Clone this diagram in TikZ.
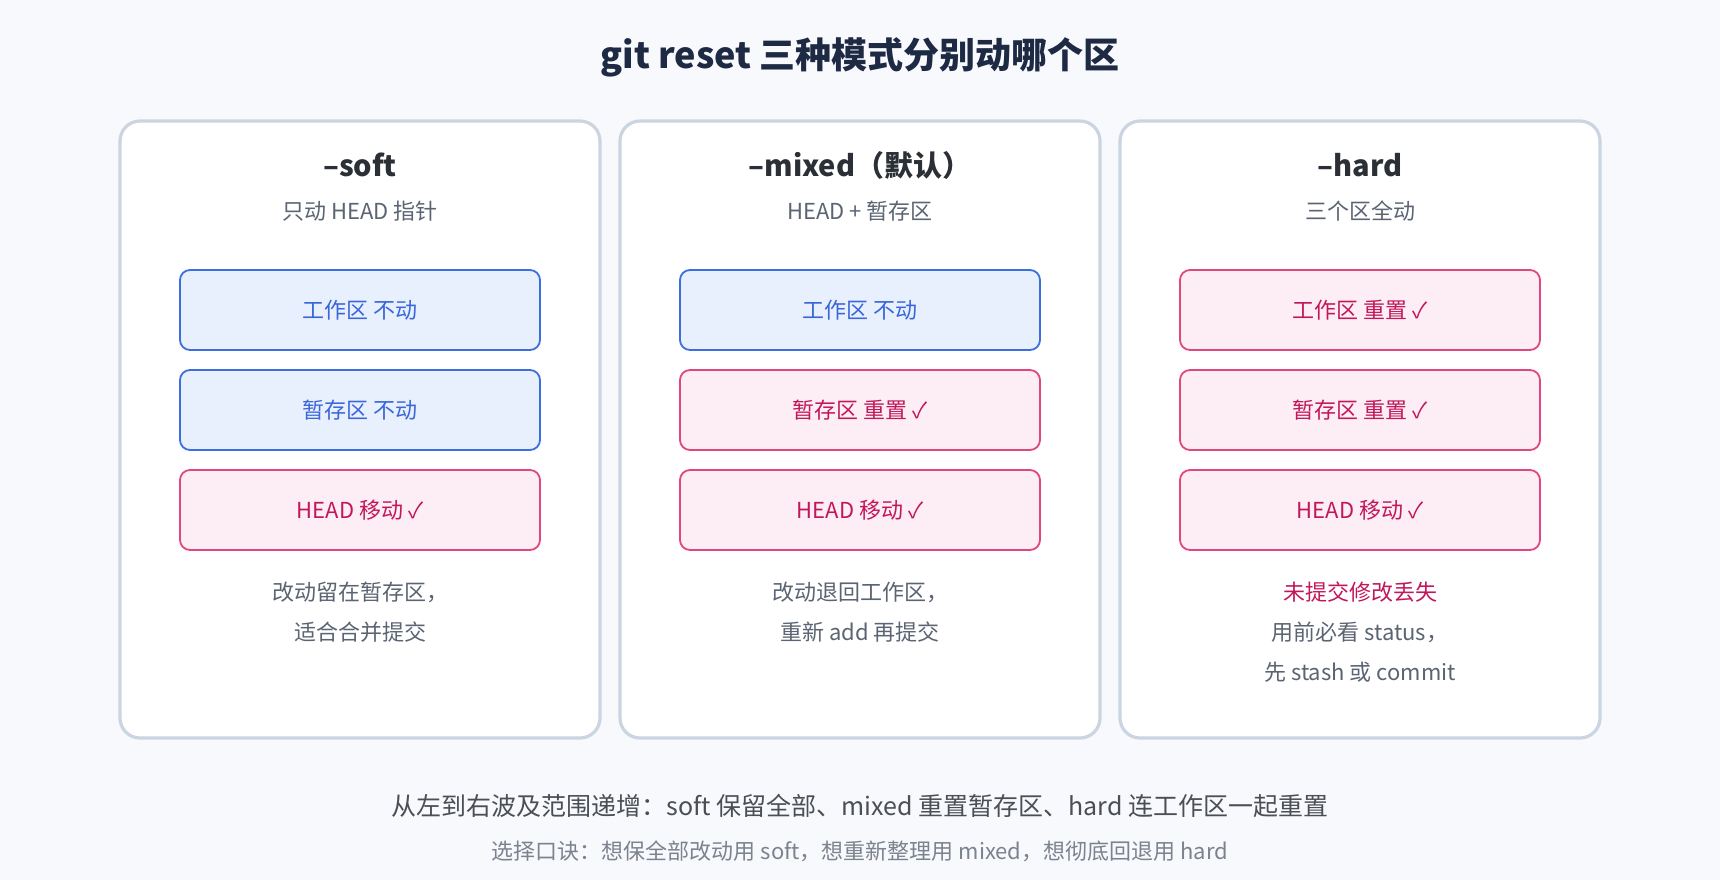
\documentclass[tikz,border=0pt]{standalone}
\usepackage{fontspec}
\setmainfont{Noto Sans CJK SC}
\definecolor{bg}{HTML}{F7F9FC}
\definecolor{cardb}{HTML}{CBD5E1}
\definecolor{bfill}{HTML}{E8F0FE}
\definecolor{bline}{HTML}{3B6FE0}
\definecolor{btext}{HTML}{3A66D9}
\definecolor{pfill}{HTML}{FCEEF4}
\definecolor{pline}{HTML}{E0477F}
\definecolor{ptext}{HTML}{C2185B}
\definecolor{ttl}{HTML}{1E2A44}
\definecolor{gr}{HTML}{5B6472}
\definecolor{dk}{HTML}{2B2F36}
\begin{document}
\begin{tikzpicture}[x=0.5pt,y=-0.5pt,
 card/.style={draw=cardb,line width=1.6pt,fill=white,rounded corners=10pt},
 bbox/.style={draw=bline,fill=bfill,line width=0.9pt,rounded corners=5pt,minimum width=180pt,minimum height=40pt,text=btext,font=\fontsize{11}{13}\selectfont},
 pbox/.style={draw=pline,fill=pfill,line width=0.9pt,rounded corners=5pt,minimum width=180pt,minimum height=40pt,text=ptext,font=\fontsize{11}{13}\selectfont},
 ctitle/.style={font=\fontsize{14.5}{16}\selectfont\bfseries,text=dk},
 sub/.style={font=\fontsize{11}{13}\selectfont,text=gr},
 note/.style={font=\fontsize{11}{20}\selectfont,text=gr,align=center}]
\useasboundingbox[fill=bg] (0,0) rectangle (1720,880);
\node[font=\fontsize{18}{20}\selectfont\bfseries,text=ttl] (title) at (860,57) {git reset 三种模式分别动哪个区};
\foreach \n/\x in {a/360,b/860,c/1360}{
 \draw[card] (\x-240,121) rectangle (\x+240,738);
}
\node[ctitle] (ta) at (360,165) {--soft};
\node[sub] (sa) at (360,211) {只动 HEAD 指针};
\node[bbox] (a1) at (360,310) {工作区 不动};
\node[bbox] (a2) at (360,410) {暂存区 不动};
\node[pbox] (a3) at (360,510) {HEAD 移动 ✓};
\node[note] (na) at (360,612) {改动留在暂存区，\\适合合并提交};
\node[ctitle] (tb) at (860,165) {--mixed（默认）};
\node[sub] (sb) at (860,211) {HEAD + 暂存区};
\node[bbox] (b1) at (860,310) {工作区 不动};
\node[pbox] (b2) at (860,410) {暂存区 重置 ✓};
\node[pbox] (b3) at (860,510) {HEAD 移动 ✓};
\node[note] (nb) at (860,612) {改动退回工作区，\\重新 add 再提交};
\node[ctitle] (tc) at (1360,165) {--hard};
\node[sub] (sc) at (1360,211) {三个区全动};
\node[pbox] (c1) at (1360,310) {工作区 重置 ✓};
\node[pbox] (c2) at (1360,410) {暂存区 重置 ✓};
\node[pbox] (c3) at (1360,510) {HEAD 移动 ✓};
\node[note] (nc) at (1360,632) {\textcolor{ptext}{未提交修改丢失}\\用前必看 status，\\先 stash 或 commit};
\node[font=\fontsize{12.5}{14}\selectfont,text=dk!85] (f1) at (860,806) {从左到右波及范围递增：soft 保留全部、mixed 重置暂存区、hard 连工作区一起重置};
\node[font=\fontsize{11}{13}\selectfont,text=gr!80] (f2) at (860,851) {选择口诀：想保全部改动用 soft，想重新整理用 mixed，想彻底回退用 hard};
\end{tikzpicture}
\end{document}
